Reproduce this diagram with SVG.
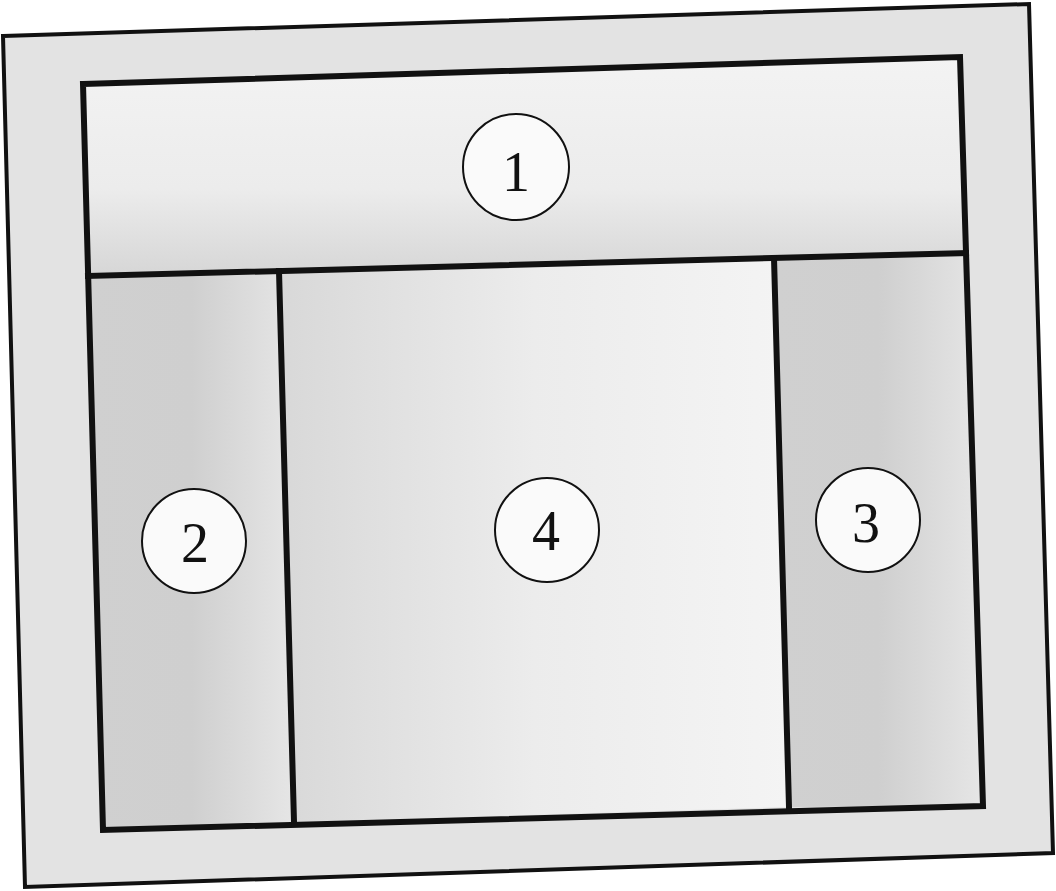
<svg xmlns="http://www.w3.org/2000/svg" width="1056" height="891" viewBox="0 0 1056 891">
<style>
.frame{fill:#e3e3e3;stroke:#111;stroke-width:4;stroke-linejoin:miter}
.wall{fill:none;stroke:#111;stroke-width:6;stroke-linecap:square;stroke-linejoin:miter}
.badge{fill:#fafafa;stroke:#111;stroke-width:2}
.num{font-family:"Liberation Serif","Times New Roman",serif;font-size:56px;fill:#111;text-anchor:middle}
</style>
<defs>
<linearGradient id="g1" x1="0" y1="0" x2="0" y2="1">
<stop offset="0" stop-color="#f3f3f3"/><stop offset="0.6" stop-color="#ececec"/><stop offset="1" stop-color="#d6d6d6"/>
</linearGradient>
<linearGradient id="gside" x1="0" y1="0" x2="1" y2="0">
<stop offset="0" stop-color="#d0d0d0"/><stop offset="0.5" stop-color="#cfcfcf"/><stop offset="1" stop-color="#e6e6e6"/>
</linearGradient>
<linearGradient id="g4" x1="0" y1="0" x2="1" y2="0">
<stop offset="0" stop-color="#d8d8d8"/><stop offset="0.5" stop-color="#ececec"/><stop offset="1" stop-color="#f4f4f4"/>
</linearGradient>
</defs>
<rect width="1056" height="891" fill="#ffffff"/>
<polygon class="frame" points="3,36 1029,4 1053,853 25,887"/>
<g id="area1">
<polygon points="83,84 960,57 966,253 88,276" fill="url(#g1)"/>
<circle class="badge" cx="516" cy="167" r="53"/>
<text class="num" x="516" y="191">1</text>
</g>
<g id="area2">
<polygon points="88,276 279,271 294,822 103,830" fill="url(#gside)"/>
<circle class="badge" cx="194" cy="541" r="52"/>
<text class="num" x="195" y="562">2</text>
</g>
<g id="area4">
<polygon points="279,271 774,258 789,807 294,822" fill="url(#g4)"/>
<circle class="badge" cx="547" cy="530" r="52"/>
<text class="num" x="546" y="550">4</text>
</g>
<g id="area3">
<polygon points="774,258 966,253 983,806 789,807" fill="url(#gside)"/>
<circle class="badge" cx="868" cy="520" r="52"/>
<text class="num" x="866" y="542">3</text>
</g>
<g id="connectors">
<polygon class="wall" points="83,84 960,57 983,806 103,830"/>
<line class="wall" x1="88" y1="276" x2="966" y2="253"/>
<line class="wall" x1="279" y1="271" x2="294" y2="822"/>
<line class="wall" x1="774" y1="258" x2="789" y2="807"/>
</g>
</svg>
